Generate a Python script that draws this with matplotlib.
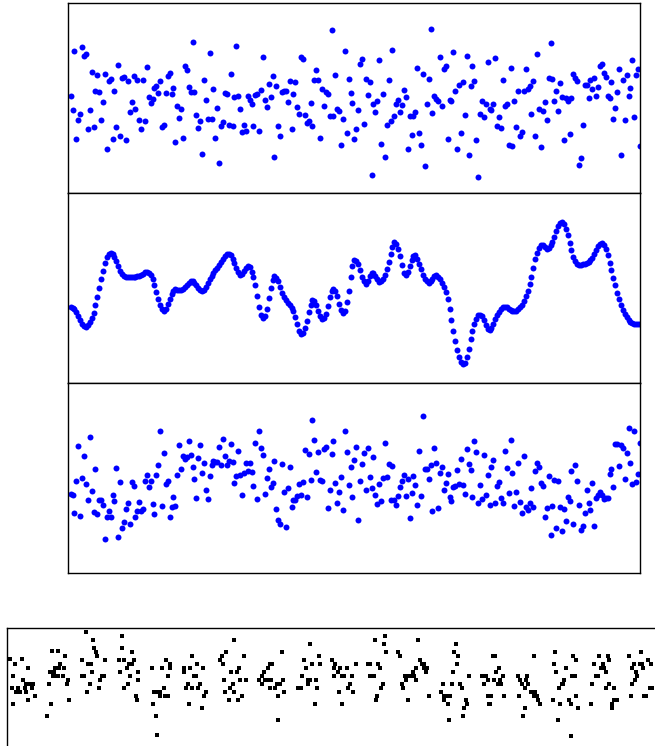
import matplotlib
matplotlib.use("Agg")
import matplotlib.pyplot as plt
import numpy as np

# ---- panel 1 : noisy series (300 samples) ----
panel1_a = [97,83,142,54,73,79,146,137,139,64, 83,121,66,102,118,101,73,91,119,44,
            112,114,54,102,66,128,57,115,116,53, 112,81,91,117,84,113,73,64,113,72,
            126,96,90,94,105,107,100,112,66,68, 100,117,120,99,105,51,87,75,84,55,
            127,123,106,101,151,101,78,65,72,39, 113,93,74,140,74,104,55,85,30,67,
            71,100,99,68,119,67,96,147,97,84, 61,68,62,97,93,89,67,98,99,62, 103]
panel1_b = [136,93,86,109,96,117,36,107,67,57, 101,102,102,91,112,64,99,111,86,79,
            136,134,78,70,72,90,67,113,123,113, 55,104,87,101,99,77,163,77,118,84,
            82,48,74,142,60,114,100,90,54,64, 83,129,134,69,114,98,111,18,89,81,
            92,133,49,99,36,68,113,72,143,77, 89,93,81,88,103,96,44,77,58,77,
            81,125,60,48,119,27,89,114,164,80, 97,94,92,136,87,124,127,54,93]
panel1_c = [92,141,102,44,108,60,111,78,137,38, 107,127,112,53,16,79,92,76,89,131,
            84,83,89,135,67,76,65,113,87,89, 48,125,47,92,66,102,57,61,102,124,
            104,107,79,112,57,139,84,46,82,91, 73,115,150,114,92,102,82,110,96,53,
            95,92,59,95,119,115,112,28,35,68, 108,108,95,113,104,115,97,106,127,129,
            120,116,97,95,111,74,85,101,124,38, 113,73,118,97,105,133,76,118,124,47]

# ---- panel 2 : smooth series (300 samples) ----
panel2_a = [76,75,74,71,67,63,59,57,56,58, 61,65,70,78,86,95,104,112,120,126,
            129,130,129,126,122,117,112,109,107,106, 106,106,106,106,106,107,107,108,109,111,
            111,110,108,104,98,91,84,78,74,72, 74,79,84,89,92,94,93,93,93,94,
            96,98,100,102,102,100,98,95,93,92, 93,96,100,104,107,110,113,115,118,121,
            124,127,129,129,128,124,120,115,111,108, 109,112,115,117,116,111,106,98,87,76,
            68,65,67,74,85,95,103,107,105,102, 96,90,86,83,80,78,75,72,66,59,
            52,49,50,55,62,71,78,83,82,78, 72,67,64,65,69,77,86,92,94,92,
            87,79,73,70,72,81,92,106,117,123]
panel2_b = [122,119,113,106,102,99,102,107,110,110, 107,104,101,102,104,108,114,121,129,136,
            141,139,134,127,118,110,108,111,117,123, 127,128,124,119,114,108,104,102,100,102,
            104,107,108,106,104,100,96,91,84,74, 63,52,42,33,26,21,19,20,26,34,
            44,52,59,64,68,68,67,63,58,54, 53,55,59,64,68,71,74,76,76,76,
            74,73,72,72,72,74,76,78,82,87, 92,99,106,115,124,130,135,138,138,136,
            134,135,138,141,146,152,157,160,161,159, 154,148,140,133,126,122,119,118,118,119,
            119,120,121,123,125,129,133,137,139,140, 138,134,128,120,113,105,98,90,84,78,
            73,69,66,63,61,60,59,59,59,59]

# ---- panel 3 : noisy series around a slow trend (300 samples) ----
panel3_a = [79,78,60,92,127,57,95,117,89,73, 136,82,61,104,59,73,73,68,34,56,
            62,56,78,72,105,36,91,45,51,64, 70,49,91,87,56,62,71,62,64,92,
            98,86,92,69,59,98,108,142,67,120, 89,92,56,66,76,67,98,128,104,117,
            114,116,132,118,106,94,75,115,128,100, 110,83,74,97,108,112,111,111,126,108,
            134,117,108,112,129,111,90,97,122,98, 78,100,110,102,110,101,87,130,74,142, 125]
panel3_b = [118,79,95,104,86,90,112,64,53,49, 109,81,46,85,106,66,73,73,77,89,
            78,91,123,76,119,93,153,133,101,121, 93,92,124,126,65,83,119,132,90,70,
            81,96,63,142,121,88,106,76,113,126, 53,92,109,120,83,125,96,85,116,78,
            69,89,72,95,130,96,109,73,107,73, 68,77,86,92,98,77,94,55,80,97,
            88,68,122,77,157,104,104,94,108,62, 125,110,65,100,106,83,90,99,76]
panel3_c = [72,86,87,103,89,114,88,79,124,109, 103,76,132,121,70,88,74,118,78,98,
            68,106,113,70,87,91,75,70,122,105, 80,133,100,67,81,110,71,60,117,66,
            63,70,85,66,102,110,106,90,87,56, 65,97,38,67,93,45,92,66,42,64,
            52,76,72,102,49,108,92,68,43,47, 60,83,70,63,90,47,75,78,81,78,
            74,75,75,99,104,86,129,129,107,128, 125,94,120,145,110,89,142,91,99,130]

# ---- bottom panel : scattered small squares (x, y) ----
bottom_points = [
    (79,114),(86,106),(115,110),(115,98),(87,98),(45,95),(51,95),(89,94),(125,94),(58,90),(90,90),
    (3,87),(15,87),(75,86),(98,86),(112,86),(117,86),(127,86),(159,86),
    (8,82),(53,82),(81,82),(84,82),(122,82),(125,82),(163,82),
    (21,78),(48,78),(50,78),(52,78),(57,78),(120,78),(145,78),(155,78),(163,78),
    (43,74),(47,74),(85,74),(113,74),(131,74),
    (6,70),(46,70),(49,70),(51,70),(56,70),(75,70),(77,70),(95,70),(97,70),(123,70),(161,70),
    (16,66),(61,66),(93,66),(131,66),
    (19,62),(23,62),(26,62),(42,62),(60,62),(83,62),(121,62),
    (5,58),(11,58),(18,58),(25,58),(92,58),(117,58),(157,58),
    (9,54),(13,54),(19,54),(80,54),(147,54),(150,54),(153,54),
    (28,50),(129,50),(153,50),(158,50),(161,50),
    (21,46),(62,46),(130,46),(6,42),(44,42),(146,42),(40,30),(149,30),(150,11),
    (185,90),(190,82),(177,78),(183,78),(196,78),(177,74),(187,70),(189,70),(181,62),(193,62),
    (179,58),(185,58),(191,58),(199,54),(197,50),(182,42),(195,38),
    (227,106),(219,94),(215,90),(213,86),(216,82),(237,90),(232,78),(230,74),(224,74),(217,66),
    (233,66),(239,66),(226,62),(223,58),(218,54),(227,54),(235,50),(222,46),(231,46),
    (275,94),(265,82),(263,82),(261,78),(257,74),(255,70),(252,66),(258,66),(261,66),(264,66),
    (255,62),(276,66),(263,58),(268,58),(270,62),(273,62),(277,54),(271,50),(271,26),
    (303,102),(312,90),(297,86),(305,82),(313,82),(299,78),(295,70),(301,66),(303,66),(309,66),
    (301,62),(291,58),(294,58),(310,58),(308,42),
    (325,86),(328,82),(327,78),(331,74),(333,78),(340,78),(327,70),(335,70),(337,70),(345,70),
    (343,62),(341,58),(346,54),(332,54),(335,42),(349,82),
    (368,106),(377,102),(378,110),(379,94),(361,82),(363,82),(371,82),(373,78),(363,70),(367,70),
    (376,62),(374,58),(370,50),(369,46),(401,46),
    (391,94),(393,90),(411,106),(413,86),(415,82),(417,82),(417,78),(420,78),(419,74),(409,78),
    (406,74),(405,70),(398,70),(401,70),(407,70),(399,66),(409,66),(395,62),(396,58),(422,50),
    (449,102),(447,94),(451,90),(450,82),(446,74),(462,70),(436,62),(445,62),(453,62),(455,58),
    (434,54),(437,50),(440,50),(443,50),(437,46),(441,42),(459,46),(460,42),(457,38),(456,30),(442,26),
    (475,70),(479,70),(481,66),(477,62),(481,50),(482,42),
    (486,90),(488,90),(492,78),(489,74),(487,66),(493,66),(496,70),(491,62),(494,62),(484,50),
    (497,50),(483,42),
    (527,90),(511,70),(513,66),(515,62),(520,70),(519,66),(521,62),(518,58),(512,50),(524,54),
    (528,54),(530,50),(527,50),(531,46),(533,42),(518,38),(516,30),
    (548,94),(547,82),(549,74),(557,66),(555,62),(556,62),(552,58),(559,78),(566,90),(569,86),
    (565,70),(568,70),(546,46),(553,42),(551,26),(562,46),(564,42),(569,50),(571,38),(564,10),
    (587,82),(592,90),(596,82),(594,78),(597,78),(589,70),(591,70),(601,90),(602,86),(599,74),
    (585,62),(599,58),(602,62),(607,58),(584,42),(605,42),(607,46),(605,38),(610,46),
    (622,90),(625,78),(627,82),(629,74),(630,70),(628,66),(625,62),(624,50),(634,94),(633,82),
    (635,82),(636,78),(641,86),(644,82),(637,50),(639,50),(643,58),(645,58),
]

panel1 = panel1_a + panel1_b + panel1_c
panel2 = panel2_a + panel2_b
panel3 = panel3_a + panel3_b + panel3_c
bottom_x = [p[0] for p in bottom_points]
bottom_y = [p[1] for p in bottom_points]

W, H = 655, 746
fig = plt.figure(figsize=(W / 100, H / 100), dpi=100)


def add_axes(left, top, right, bottom):
    return fig.add_axes([left / W, 1 - bottom / H, (right - left) / W, (bottom - top) / H])


def style(ax):
    ax.set_xticks([])
    ax.set_yticks([])
    for s in ax.spines.values():
        s.set_linewidth(1.0)
        s.set_color("black")


for series, (t, b) in zip([panel1, panel2, panel3], [(3, 193), (193, 383), (383, 573)]):
    ax = add_axes(68, t, 640, b)
    x = np.arange(len(series))
    ax.plot(x, series, "o", color="#0000ff", ms=4.3, mew=0)
    ax.set_xlim(-1.4, 299)
    ax.set_ylim(0, 190)
    style(ax)

axb = add_axes(7, 628, 660, 750)
axb.plot(bottom_x, bottom_y, "s", color="black", ms=3.0, mew=0)
axb.set_xlim(0, 653)
axb.set_ylim(-4, 118)
style(axb)

fig.savefig("out.png", dpi=100)
